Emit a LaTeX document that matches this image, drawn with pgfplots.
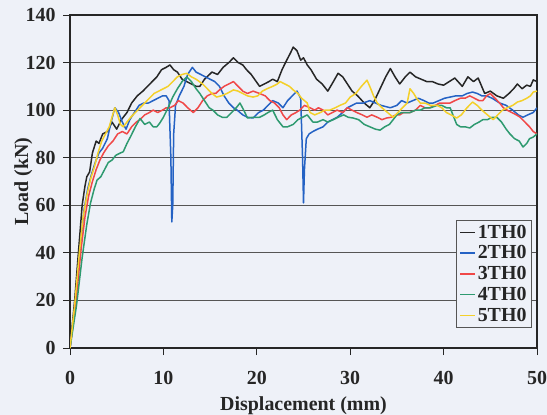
\documentclass[border=0pt]{standalone}
\usepackage{fontspec}
\setmainfont{Liberation Serif}
\usepackage{pgfplots}
\pgfplotsset{compat=1.18}
\definecolor{bg}{HTML}{EEF1F8}
\definecolor{c1}{HTML}{262626}
\definecolor{c2}{HTML}{2462C4}
\definecolor{c3}{HTML}{F04848}
\definecolor{c4}{HTML}{2E9A70}
\definecolor{c5}{HTML}{F4D02A}
\definecolor{gridc}{HTML}{555555}
\begin{document}
\begin{tikzpicture}
\path[use as bounding box, fill=bg] (-70bp,-67bp) rectangle (477bp,348bp);
\begin{axis}[
  at={(0,0)}, anchor=origin,
  scale only axis, width=467bp, height=333bp,
  xmin=0, xmax=50, ymin=0, ymax=140,
  xtick={0,10,...,50}, ytick={0,20,...,140},
  xtick pos=bottom, ytick pos=left, tick align=outside,
  major tick length=7bp,
  axis line style={draw=c1, line width=1.1bp},
  tick style={draw=c1, line width=0.9bp},
  ymajorgrids, grid style={draw=gridc, line width=0.8bp},
  /pgf/number format/assume math mode=true,
  tick label style={font=\bfseries\fontsize{20}{20}\selectfont, text=c1},
  xticklabel style={yshift=-13bp},
  yticklabel style={xshift=-4bp},
  xlabel={\bfseries Displacement (mm)},
  ylabel={\bfseries Load (kN)},
  label style={font=\bfseries\fontsize{20}{20}\selectfont, text=c1},
  xlabel style={at={(axis description cs:0.5,0)}, anchor=base, yshift=-62bp},
  ylabel style={at={(axis description cs:0,0.5)}, anchor=base, rotate=0, xshift=0bp, yshift=42bp},
  legend style={at={(axis description cs:0.989,0.06)}, anchor=south east,
    draw=gridc, line width=0.8bp, fill=bg, font=\bfseries\fontsize{20}{20}\selectfont,
    inner sep=3bp, row sep=2bp, text=c1},
  legend cell align=left,
  legend image code/.code={\draw[line width=1.5bp, #1, draw=.] (0bp,0bp) -- (15bp,0bp);},
  every axis plot/.append style={line width=1.5bp, line join=round},
  clip=true,
]
\addplot[c1] coordinates {
(0,0) (0.5,20) (1.0,45) (1.3,60) (1.6,68) (1.8,72) (2.1,74) (2.4,82) (2.8,87) (3.1,86) (3.5,90) (4.0,91) (4.5,95) (5.0,92) (5.5,96) (6.1,99) (6.6,103) (7.2,106) (7.8,108) (8.3,110) (8.8,112) (9.3,114) (9.8,117) (10.3,118) (10.7,119) (11.1,117) (11.5,116) (12.0,113) (12.5,112) (13.0,111) (13.5,110) (13.9,110) (14.4,113) (15.2,116) (15.8,115) (16.4,118) (17.0,120) (17.5,122) (18.0,120) (18.5,119) (18.9,117) (19.4,115) (20.3,110) (20.8,111) (21.3,112) (21.7,113) (22.2,112) (22.7,117) (23.2,121) (23.6,124) (23.9,126.5) (24.3,125) (24.7,121) (25.0,122) (25.4,119) (25.8,117) (26.4,113) (27.0,111) (27.6,108) (28.2,112) (28.7,115.5) (29.2,114) (29.7,111) (30.2,108) (30.8,106) (31.5,103) (32.1,101) (32.6,104) (33.2,109) (33.8,114) (34.3,117.5) (34.8,114) (35.3,111) (35.9,114) (36.4,116) (37.0,114) (37.6,113) (38.2,112) (38.8,112) (39.4,111) (40.0,110.5) (40.6,112) (41.2,113.5) (42.0,110) (42.6,114) (43.2,112) (43.7,113.5) (44.4,107) (45.0,108) (45.7,106) (46.4,105) (47.0,107) (47.5,109) (47.9,111) (48.4,109) (48.9,110.5) (49.3,110) (49.6,112.7) (50,112)
};
\addlegendentry{1TH0}
\addplot[c2] coordinates {
(0,0) (0.6,20) (1.1,42) (1.5,58) (1.9,67) (2.3,73) (2.7,78) (3.1,82) (3.5,84) (4.0,88) (4.4,95) (4.8,101) (5.2,99) (5.6,95) (6.0,92) (6.4,96) (6.9,99) (7.4,102) (7.9,103) (8.4,103) (8.9,104) (9.4,105) (9.9,106) (10.3,106) (10.6,104) (10.8,80) (10.9,53) (11.0,60) (11.1,90) (11.3,102) (11.7,106) (12.2,110) (12.6,115) (13.1,118) (13.5,116) (14.0,115) (14.5,114) (15.0,113) (15.5,112) (16.0,110) (16.5,106) (17.0,103) (17.5,101) (17.9,100) (18.5,98) (19.0,97) (19.6,96.7) (20.2,99) (20.7,100) (21.2,102) (21.7,104) (22.3,103) (22.8,101) (23.3,104) (23.8,106) (24.3,108) (24.7,105) (24.9,80) (25.0,61) (25.1,75) (25.3,88) (25.6,90) (26.0,91) (26.5,92) (27.1,93) (27.6,95) (28.1,96) (28.6,97) (29.2,99) (29.7,101) (30.2,102) (30.7,103) (31.4,103) (32.1,104) (32.7,103) (33.3,102) (34.3,101) (35.0,102) (35.5,104) (36.1,103) (36.7,104) (37.3,105) (37.9,104) (38.4,103) (38.9,103) (39.5,104) (40.1,105) (40.7,105.5) (41.3,106) (42.0,106) (42.5,107) (43.1,107.6) (43.6,107) (44.1,106) (44.6,106) (45.2,105) (45.6,104) (46.0,103) (46.7,102) (47.4,100) (48.0,98) (48.5,97) (49.0,98) (49.6,99) (50,101)
};
\addlegendentry{2TH0}
\addplot[c3] coordinates {
(0,0) (0.6,18) (1.2,42) (1.6,55) (2.0,64) (2.4,70) (2.8,75) (3.2,79) (3.6,82) (4.1,85) (4.6,87) (5.1,90) (5.6,91) (6.1,90) (6.6,93) (7.1,95) (7.5,96) (8.0,98) (8.5,99) (8.9,100) (9.4,99) (9.9,100) (10.3,101) (10.7,101) (11.2,102) (11.6,104) (12.1,103) (12.6,101) (13.2,99) (13.7,101) (14.2,104) (14.7,106) (15.2,107) (15.6,107) (16.0,108.5) (16.5,110) (17.0,111) (17.5,112) (18.0,110) (18.5,108) (19.0,107) (19.6,108) (20.3,107) (20.9,106) (21.4,104) (21.9,103) (22.4,101) (22.8,98) (23.2,96) (23.7,98) (24.2,99) (24.6,100) (25.1,102) (25.7,101) (26.2,100) (26.6,101) (27.1,100) (27.6,98) (28.1,99) (28.6,100) (29.2,99) (29.7,101) (30.2,100) (30.7,99) (31.3,98) (31.8,97) (32.3,98) (32.9,97) (33.4,96) (33.9,96.7) (34.4,97) (34.9,98) (35.3,98) (35.7,99) (36.4,99) (37.0,100) (37.5,102) (38.0,101) (38.5,101) (39.1,102) (39.6,103) (40.1,103) (40.7,103) (41.2,104) (41.8,105) (42.3,105) (42.8,106) (43.3,105) (43.8,104) (44.2,104) (44.6,106) (45.0,107) (45.5,105) (46.0,103) (46.4,101) (46.8,100) (47.3,99) (47.8,98) (48.2,97) (48.7,95) (49.2,93) (49.6,91) (50,90)
};
\addlegendentry{3TH0}
\addplot[c4] coordinates {
(0,0) (0.7,18) (1.3,38) (1.8,52) (2.2,61) (2.6,67) (2.9,70.6) (3.3,72) (3.7,75) (4.1,78) (4.5,79) (4.9,81) (5.4,82) (5.7,82.5) (6.1,86) (6.5,89) (7.0,93) (7.5,96.5) (8.0,94) (8.5,95) (8.9,93) (9.3,93) (9.6,94.5) (10.0,97) (10.5,101) (11.0,105.5) (11.5,109) (12.0,112) (12.5,114) (13.0,112) (13.5,109) (13.9,107) (14.4,104) (14.9,101) (15.3,100) (15.8,98) (16.3,97) (16.8,97) (17.3,99) (17.8,101) (18.2,103) (18.6,100) (19.0,96.7) (19.6,97) (20.3,97) (20.8,98) (21.2,99) (21.7,100) (22.2,96) (22.8,93) (23.3,93) (23.9,94) (24.4,96) (24.9,97) (25.4,98) (26.0,95) (26.5,95) (27.1,96) (27.6,95) (28.2,96) (28.7,97) (29.3,98) (29.8,97) (30.3,96.7) (30.9,96) (31.5,94) (32.1,93) (32.7,92) (33.2,91.6) (33.7,93) (34.2,94) (34.6,96) (35.0,98) (35.5,99) (36.0,99) (36.4,99) (37.0,100) (37.5,100) (38.0,101) (38.6,101) (39.3,102) (39.8,102) (40.3,101) (40.7,101) (41.1,97) (41.4,94) (41.8,93) (42.3,93) (42.8,92.5) (43.3,94) (43.8,95) (44.2,96) (44.7,96) (45.2,97) (45.7,97) (46.2,95) (46.7,92) (47.1,90) (47.6,88) (48.1,87) (48.5,84.5) (48.9,86) (49.2,88) (49.6,88.7) (50,90)
};
\addlegendentry{4TH0}
\addplot[c5] coordinates {
(0,0) (0.5,18) (1.0,40) (1.4,55) (1.8,64) (2.2,71) (2.6,76) (3.0,82) (3.4,87) (3.8,90) (4.2,93) (4.5,97) (4.8,101) (5.1,98) (5.4,94) (5.7,93) (6.1,95) (6.5,97) (7.0,99) (7.5,101) (8.0,103) (8.5,105) (9.0,107) (9.5,108) (10.0,109) (10.5,110) (11.0,112) (11.5,114) (12.0,115) (12.5,115.5) (13.0,114) (13.5,113) (14.2,111) (14.7,109) (15.2,107) (15.7,105.5) (16.2,106) (16.8,107) (17.5,108.5) (18.0,108) (18.5,107) (19.0,106) (19.6,105.5) (20.1,106) (20.6,108) (21.1,109) (21.7,110) (22.2,111) (22.5,112) (23.0,111) (23.5,110) (23.9,108.5) (24.4,107) (24.8,105) (25.4,103) (25.7,99) (26.2,98) (26.8,99) (27.3,100) (27.8,100) (28.4,101) (28.9,102) (29.5,103) (30.0,105.5) (30.6,107) (31.2,110) (31.8,112.6) (32.2,109) (32.5,106) (32.9,103) (33.4,101) (34.0,99) (34.6,97) (35.1,99) (35.6,101) (36.1,103) (36.4,109) (36.8,107) (37.1,105) (37.5,103) (38.0,103) (38.6,102) (39.3,102) (39.8,101) (40.3,99) (40.8,98) (41.4,96.7) (41.9,98) (42.5,101) (43.1,103.4) (43.6,102) (44.1,100) (44.7,98) (45.3,96) (45.8,98) (46.3,100) (46.8,101) (47.4,102) (47.9,103.4) (48.4,104) (48.9,105) (49.3,106) (49.6,107.6) (50,108)
};
\addlegendentry{5TH0}
\end{axis}
\end{tikzpicture}
\end{document}
